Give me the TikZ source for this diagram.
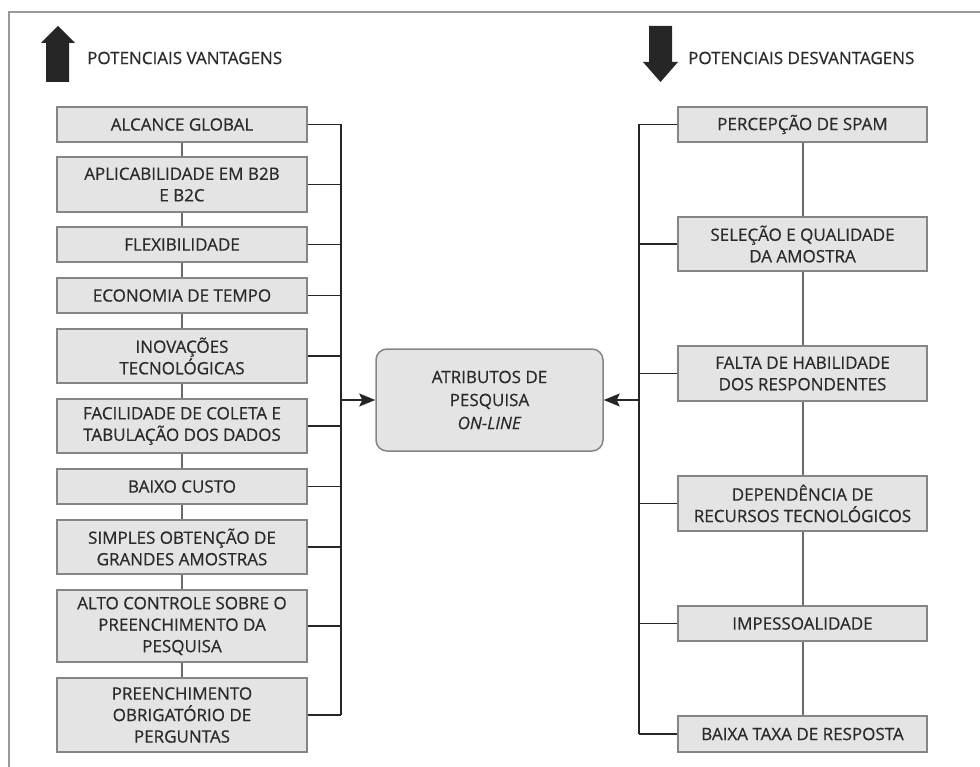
\documentclass[tikz,border=0pt]{standalone}
\usepackage{fontspec}
\setmainfont{Open Sans}[FakeBold=0.6]
\usetikzlibrary{arrows.meta}
\definecolor{txt}{HTML}{2B2B2B}
\definecolor{boxc}{HTML}{858585}
\definecolor{fillc}{HTML}{E4E4E4}
\definecolor{busc}{HTML}{262626}
\definecolor{linkc}{HTML}{6A6A6A}
\definecolor{framec}{HTML}{9A9A9A}
\tikzset{
  itembox/.style={draw=boxc, fill=fillc, line width=1.5pt, minimum width=250pt,
    inner sep=0pt, align=center, text=txt, font=\fontsize{17}{21.5}\selectfont},
  centerbox/.style={draw=boxc, fill=fillc, line width=1.5pt, rounded corners=11pt,
    minimum width=227pt, minimum height=102pt, inner sep=0pt, align=center, text=txt,
    font=\fontsize{17}{23}\selectfont},
  headtxt/.style={anchor=west, text=txt, inner sep=0pt, font=\fontsize{17}{20}\selectfont},
  bus/.style={draw=busc, line width=1.6pt},
  link/.style={draw=linkc, line width=2pt},
  feed/.style={draw=busc, line width=1.6pt, -{Stealth[length=16pt,width=13pt,inset=3pt]}},
}
\begin{document}
\begin{tikzpicture}[x=1pt,y=-1pt]
\useasboundingbox (0,0) rectangle (980,767);
% frame
\draw[framec, line width=2.2pt] (9,767) -- (9,12) -- (980,12);
% header arrows
\fill[busc] (46,82) -- (69,82) -- (69,43) -- (75,43) -- (58,26) -- (41,43) -- (46,43) -- cycle;
\fill[busc] (649,26) -- (672,26) -- (672,62) -- (678,62) -- (660.5,82) -- (643,62) -- (649,62) -- cycle;
\node[headtxt] (hv) at (87,58) {POTENCIAIS VANTAGENS};
\node[headtxt] (hd) at (688,58) {POTENCIAIS DESVANTAGENS};
% left column
\node[itembox, minimum height=35pt] (L1) at (182,124.5) {ALCANCE GLOBAL};
\node[itembox, minimum height=55pt] (L2) at (182,184.5) {APLICABILIDADE EM B2B\\E B2C};
\node[itembox, minimum height=35pt] (L3) at (182,244.5) {FLEXIBILIDADE};
\node[itembox, minimum height=35pt] (L4) at (182,295.5) {ECONOMIA DE TEMPO};
\node[itembox, minimum height=54pt] (L5) at (182,356) {INOVAÇÕES\\TECNOLÓGICAS};
\node[itembox, minimum height=54pt] (L6) at (182,426) {FACILIDADE DE COLETA E\\TABULAÇÃO DOS DADOS};
\node[itembox, minimum height=35pt] (L7) at (182,486.5) {BAIXO CUSTO};
\node[itembox, minimum height=54pt] (L8) at (182,547) {SIMPLES OBTENÇÃO DE\\GRANDES AMOSTRAS};
\node[itembox, minimum height=72pt] (L9) at (182,626) {ALTO CONTROLE SOBRE O\\PREENCHIMENTO DA\\PESQUISA};
\node[itembox, minimum height=74pt] (L10) at (182,715) {PREENCHIMENTO\\OBRIGATÓRIO DE\\PERGUNTAS};
% right column
\node[itembox, minimum width=249pt, minimum height=35pt] (R1) at (802.5,124.5) {PERCEPÇÃO DE SPAM};
\node[itembox, minimum width=249pt, minimum height=54pt] (R2) at (802.5,244) {SELEÇÃO E QUALIDADE\\DA AMOSTRA};
\node[itembox, minimum width=249pt, minimum height=55pt] (R3) at (802.5,373.5) {FALTA DE HABILIDADE\\DOS RESPONDENTES};
\node[itembox, minimum width=249pt, minimum height=55pt] (R4) at (802.5,503.5) {DEPENDÊNCIA DE\\RECURSOS TECNOLÓGICOS};
\node[itembox, minimum width=249pt, minimum height=35pt] (R5) at (802.5,623.5) {IMPESSOALIDADE};
\node[itembox, minimum width=249pt, minimum height=36pt] (R6) at (802.5,734) {BAIXA TAXA DE RESPOSTA};
% center
\node[centerbox] (C) at (489.5,400) {ATRIBUTOS DE\\PESQUISA\\\textit{ON-LINE}};
% bus coordinates
\coordinate (bl) at (341,400);
\coordinate (br) at (639,400);
% vertical links between boxes
\foreach \a/\b in {L1/L2,L2/L3,L3/L4,L4/L5,L5/L6,L6/L7,L7/L8,L8/L9,L9/L10,R1/R2,R2/R3,R3/R4,R4/R5,R5/R6}
  \draw[link] (\a.south) -- (\b.north);
% left stubs and bus
\foreach \n in {L1,L2,L3,L4,L5,L6,L7,L8,L9,L10}
  \draw[bus] (\n.east) -- (\n.east -| bl);
\draw[bus] (L1.east -| bl) -- (L10.east -| bl);
% right stubs and bus
\foreach \n in {R1,R2,R3,R4,R5,R6}
  \draw[bus] (\n.west) -- (\n.west -| br);
\draw[bus] (R1.west -| br) -- (R6.west -| br);
% arrows into center
\draw[feed] (bl) -- (C.west);
\draw[feed] (br) -- (C.east);
\end{tikzpicture}
\end{document}
